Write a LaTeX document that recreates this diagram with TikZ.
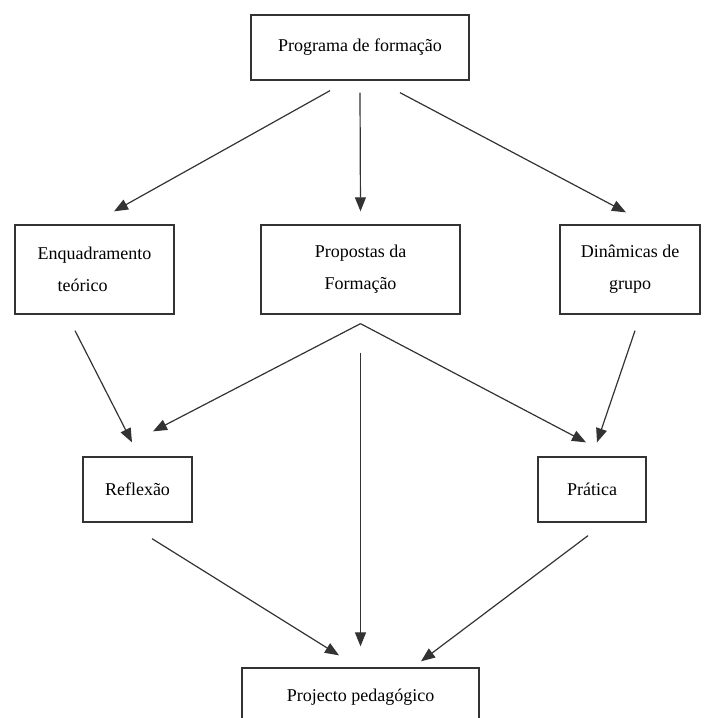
\documentclass[tikz,border=0pt]{standalone}
\usepackage{fontspec}
\setmainfont{Liberation Serif}
\usetikzlibrary{arrows.meta}

\begin{document}
\begin{tikzpicture}[x=0.5pt, y=-0.5pt]
\tikzset{>={Triangle[length=7pt,width=5.5pt]}}
\tikzset{caixa/.style={draw=black!80, line width=0.65pt, inner sep=0pt, align=center,
    font=\fontsize{9}{16}\selectfont}}
\tikzset{seta/.style={->, draw=black!80, line width=0.6pt}}
\useasboundingbox (0,0) rectangle (704,718);

% primeira linha
\node[caixa, minimum width=109pt, minimum height=32.5pt] (prog) at (360, 47.5) {Programa de formação};

% segunda linha
\node[caixa, minimum width=79.5pt, minimum height=44.5pt, align=left] (enq) at (94.5, 269.5) {Enquadramento\\\hspace*{10pt}teórico};
\node[caixa, minimum width=99.5pt, minimum height=44.5pt] (prop) at (360.5, 269.5) {Propostas da\\Formação};
\node[caixa, minimum width=70pt, minimum height=44.5pt] (din) at (630, 269.5) {Dinâmicas de\\grupo};

% terceira linha
\node[caixa, minimum width=54.5pt, minimum height=32.5pt] (refl) at (137.5, 489.5) {Reflexão};
\node[caixa, minimum width=54pt, minimum height=32.5pt] (prat) at (592, 489.5) {Prática};

\node[caixa, minimum width=118.5pt, minimum height=29pt] (proj) at (360.5, 697) {Projecto pedagógico};

\draw[seta] ([shift={(-30,10)}]prog.south) -- ([shift={(19.5,-13)}]enq.north);
\draw[seta] ([shift={(0,12)}]prog.south) -- ([shift={(0,-13)}]prop.north);
\draw[seta] ([shift={(40,12)}]prog.south) -- ([shift={(-4,-12)}]din.north);

\draw[seta] ([shift={(-19.5,16)}]enq.south) -- ([shift={(-5.5,-14)}]refl.north);
\draw[seta] ([shift={(0,9)}]prop.south) -- ([shift={(15.5,-25)}]refl.north);
\draw[seta] ([shift={(0,9)}]prop.south) -- ([shift={(-6,-14)}]prat.north);
\draw[seta] ([shift={(0,38)}]prop.south) -- ([shift={(0,-21)}]proj.north);
\draw[seta] ([shift={(5,16)}]din.south) -- ([shift={(5,-14)}]prat.north);

\draw[seta] ([shift={(14.5,16)}]refl.south) -- ([shift={(-21.5,-12)}]proj.north);
\draw[seta] ([shift={(-4,13)}]prat.south) -- ([shift={(60.5,-6)}]proj.north);
\end{tikzpicture}
\end{document}
